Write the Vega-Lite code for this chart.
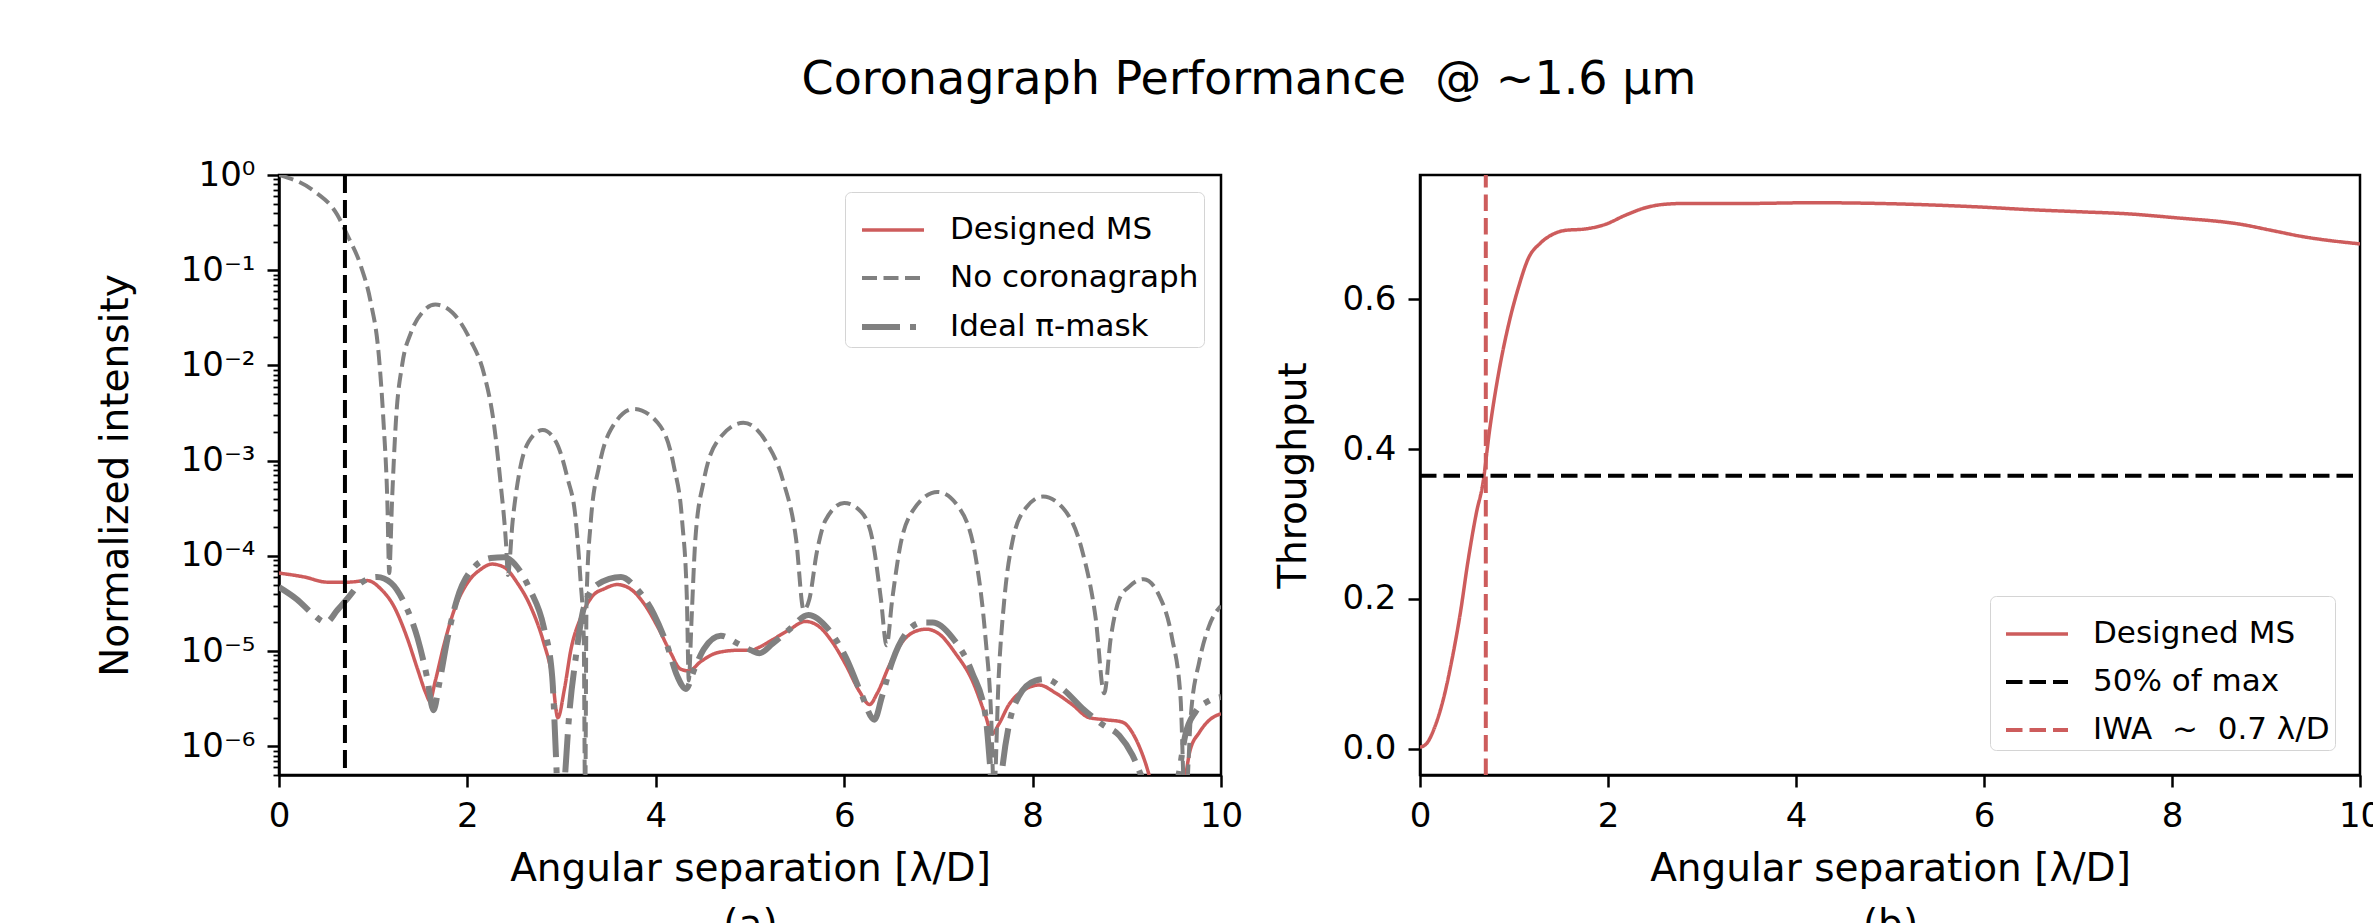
{
  "$schema": "https://vega.github.io/schema/vega-lite/v6.json",
  "autosize": {"type": "pad"},
  "padding": {"left": 94, "top": 56, "right": 0, "bottom": 0},
  "background": "white",
  "title": {"text": "Coronagraph Performance\u00a0\u00a0@ ~1.6 µm", "font": "DejaVu Sans", "fontSize": 46, "fontWeight": "normal", "color": "black", "anchor": "middle", "offset": 53, "dx": 10},
  "datasets": {
    "intensity": [
      {"x": 0, "y": 6.6e-5, "series": "Designed MS"}, {"x": 0.27, "y": 6.0e-5, "series": "Designed MS"}, {"x": 0.51, "y": 5.3e-5, "series": "Designed MS"}, {"x": 0.73, "y": 5.3e-5, "series": "Designed MS"}, {"x": 0.94, "y": 5.5e-5, "series": "Designed MS"}, {"x": 1.08, "y": 4.5e-5, "series": "Designed MS"}, {"x": 1.22, "y": 2.95e-5, "series": "Designed MS"}, {"x": 1.36, "y": 1.38e-5, "series": "Designed MS"}, {"x": 1.47, "y": 6.5e-6, "series": "Designed MS"}, {"x": 1.56, "y": 3.6e-6, "series": "Designed MS"}, {"x": 1.6, "y": 3.0e-6, "series": "Designed MS"}, {"x": 1.66, "y": 4.9e-6, "series": "Designed MS"}, {"x": 1.75, "y": 1.15e-5, "series": "Designed MS"}, {"x": 1.86, "y": 2.7e-5, "series": "Designed MS"}, {"x": 2.0, "y": 5.2e-5, "series": "Designed MS"}, {"x": 2.14, "y": 7.2e-5, "series": "Designed MS"}, {"x": 2.26, "y": 8.2e-5, "series": "Designed MS"}, {"x": 2.39, "y": 7.6e-5, "series": "Designed MS"}, {"x": 2.53, "y": 5.2e-5, "series": "Designed MS"}, {"x": 2.67, "y": 2.95e-5, "series": "Designed MS"}, {"x": 2.81, "y": 1.23e-5, "series": "Designed MS"}, {"x": 2.9, "y": 5.4e-6, "series": "Designed MS"}, {"x": 2.96, "y": 2.0e-6, "series": "Designed MS"}, {"x": 3.03, "y": 4.0e-6, "series": "Designed MS"}, {"x": 3.1, "y": 1.05e-5, "series": "Designed MS"}, {"x": 3.2, "y": 2.2e-5, "series": "Designed MS"}, {"x": 3.34, "y": 3.9e-5, "series": "Designed MS"}, {"x": 3.45, "y": 4.5e-5, "series": "Designed MS"}, {"x": 3.59, "y": 5.0e-5, "series": "Designed MS"}, {"x": 3.73, "y": 4.5e-5, "series": "Designed MS"}, {"x": 3.87, "y": 3.2e-5, "series": "Designed MS"}, {"x": 4.02, "y": 1.8e-5, "series": "Designed MS"}, {"x": 4.16, "y": 9.5e-6, "series": "Designed MS"}, {"x": 4.26, "y": 6.5e-6, "series": "Designed MS"}, {"x": 4.35, "y": 6.2e-6, "series": "Designed MS"}, {"x": 4.48, "y": 7.8e-6, "series": "Designed MS"}, {"x": 4.65, "y": 9.6e-6, "series": "Designed MS"}, {"x": 4.87, "y": 1.02e-5, "series": "Designed MS"}, {"x": 5.01, "y": 1.02e-5, "series": "Designed MS"}, {"x": 5.1, "y": 1.1e-5, "series": "Designed MS"}, {"x": 5.24, "y": 1.32e-5, "series": "Designed MS"}, {"x": 5.41, "y": 1.66e-5, "series": "Designed MS"}, {"x": 5.59, "y": 2.05e-5, "series": "Designed MS"}, {"x": 5.73, "y": 1.82e-5, "series": "Designed MS"}, {"x": 5.87, "y": 1.26e-5, "series": "Designed MS"}, {"x": 6.02, "y": 7.1e-6, "series": "Designed MS"}, {"x": 6.16, "y": 3.8e-6, "series": "Designed MS"}, {"x": 6.27, "y": 2.75e-6, "series": "Designed MS"}, {"x": 6.35, "y": 3.6e-6, "series": "Designed MS"}, {"x": 6.48, "y": 7.1e-6, "series": "Designed MS"}, {"x": 6.62, "y": 1.26e-5, "series": "Designed MS"}, {"x": 6.76, "y": 1.62e-5, "series": "Designed MS"}, {"x": 6.87, "y": 1.7e-5, "series": "Designed MS"}, {"x": 7.01, "y": 1.51e-5, "series": "Designed MS"}, {"x": 7.18, "y": 9.5e-6, "series": "Designed MS"}, {"x": 7.36, "y": 4.9e-6, "series": "Designed MS"}, {"x": 7.5, "y": 2.1e-6, "series": "Designed MS"}, {"x": 7.57, "y": 1.35e-6, "series": "Designed MS"}, {"x": 7.64, "y": 1.7e-6, "series": "Designed MS"}, {"x": 7.75, "y": 2.75e-6, "series": "Designed MS"}, {"x": 7.89, "y": 3.8e-6, "series": "Designed MS"}, {"x": 8.07, "y": 4.4e-6, "series": "Designed MS"}, {"x": 8.25, "y": 3.6e-6, "series": "Designed MS"}, {"x": 8.42, "y": 2.75e-6, "series": "Designed MS"}, {"x": 8.6, "y": 2.0e-6, "series": "Designed MS"}, {"x": 8.78, "y": 1.9e-6, "series": "Designed MS"}, {"x": 8.95, "y": 1.8e-6, "series": "Designed MS"}, {"x": 9.1, "y": 1.17e-6, "series": "Designed MS"}, {"x": 9.2, "y": 6.6e-7, "series": "Designed MS"}, {"x": 9.3, "y": 3e-7, "series": "Designed MS"}, {"x": 9.45, "y": 1.5e-7, "series": "Designed MS"}, {"x": 9.59, "y": 3e-7, "series": "Designed MS"}, {"x": 9.67, "y": 8.9e-7, "series": "Designed MS"}, {"x": 9.77, "y": 1.4e-6, "series": "Designed MS"}, {"x": 9.88, "y": 1.9e-6, "series": "Designed MS"}, {"x": 10.0, "y": 2.2e-6, "series": "Designed MS"},

      {"x": 0, "y": 1.0, "series": "No coronagraph"}, {"x": 0.37, "y": 0.68, "series": "No coronagraph"}, {"x": 0.62, "y": 0.38, "series": "No coronagraph"}, {"x": 0.72, "y": 0.24, "series": "No coronagraph"}, {"x": 0.87, "y": 0.11, "series": "No coronagraph"}, {"x": 0.97, "y": 0.048, "series": "No coronagraph"}, {"x": 1.06, "y": 0.0126, "series": "No coronagraph"}, {"x": 1.11, "y": 0.0025, "series": "No coronagraph"}, {"x": 1.15, "y": 3.8e-4, "series": "No coronagraph"}, {"x": 1.17, "y": 6.6e-5, "series": "No coronagraph"}, {"x": 1.2, "y": 3.8e-4, "series": "No coronagraph"}, {"x": 1.24, "y": 0.0025, "series": "No coronagraph"}, {"x": 1.31, "y": 0.0105, "series": "No coronagraph"}, {"x": 1.4, "y": 0.022, "series": "No coronagraph"}, {"x": 1.52, "y": 0.036, "series": "No coronagraph"}, {"x": 1.66, "y": 0.0436, "series": "No coronagraph"}, {"x": 1.84, "y": 0.036, "series": "No coronagraph"}, {"x": 2.03, "y": 0.0186, "series": "No coronagraph"}, {"x": 2.18, "y": 0.0079, "series": "No coronagraph"}, {"x": 2.28, "y": 0.0025, "series": "No coronagraph"}, {"x": 2.35, "y": 6.1e-4, "series": "No coronagraph"}, {"x": 2.41, "y": 1.35e-4, "series": "No coronagraph"}, {"x": 2.43, "y": 6.3e-5, "series": "No coronagraph"}, {"x": 2.48, "y": 2.3e-4, "series": "No coronagraph"}, {"x": 2.55, "y": 7.4e-4, "series": "No coronagraph"}, {"x": 2.65, "y": 1.58e-3, "series": "No coronagraph"}, {"x": 2.8, "y": 2.1e-3, "series": "No coronagraph"}, {"x": 2.94, "y": 1.58e-3, "series": "No coronagraph"}, {"x": 3.06, "y": 6.7e-4, "series": "No coronagraph"}, {"x": 3.15, "y": 2.4e-4, "series": "No coronagraph"}, {"x": 3.2, "y": 5.7e-5, "series": "No coronagraph"}, {"x": 3.235, "y": 1.4e-5, "series": "No coronagraph"}, {"x": 3.25, "y": 2e-7, "series": "No coronagraph"}, {"x": 3.265, "y": 3.5e-5, "series": "No coronagraph"}, {"x": 3.31, "y": 2.3e-4, "series": "No coronagraph"}, {"x": 3.4, "y": 8.9e-4, "series": "No coronagraph"}, {"x": 3.52, "y": 2.1e-3, "series": "No coronagraph"}, {"x": 3.77, "y": 3.5e-3, "series": "No coronagraph"}, {"x": 4.02, "y": 2.5e-3, "series": "No coronagraph"}, {"x": 4.19, "y": 8.9e-4, "series": "No coronagraph"}, {"x": 4.28, "y": 2.3e-4, "series": "No coronagraph"}, {"x": 4.33, "y": 3.5e-5, "series": "No coronagraph"}, {"x": 4.35, "y": 4.9e-6, "series": "No coronagraph"}, {"x": 4.38, "y": 2.2e-5, "series": "No coronagraph"}, {"x": 4.42, "y": 1.5e-4, "series": "No coronagraph"}, {"x": 4.51, "y": 6.2e-4, "series": "No coronagraph"}, {"x": 4.65, "y": 1.58e-3, "series": "No coronagraph"}, {"x": 4.93, "y": 2.5e-3, "series": "No coronagraph"}, {"x": 5.17, "y": 1.58e-3, "series": "No coronagraph"}, {"x": 5.35, "y": 6.2e-4, "series": "No coronagraph"}, {"x": 5.49, "y": 1.48e-4, "series": "No coronagraph"}, {"x": 5.57, "y": 2.7e-5, "series": "No coronagraph"}, {"x": 5.63, "y": 3.5e-5, "series": "No coronagraph"}, {"x": 5.71, "y": 1.1e-4, "series": "No coronagraph"}, {"x": 5.8, "y": 2.35e-4, "series": "No coronagraph"}, {"x": 6.0, "y": 3.6e-4, "series": "No coronagraph"}, {"x": 6.18, "y": 2.9e-4, "series": "No coronagraph"}, {"x": 6.3, "y": 1.48e-4, "series": "No coronagraph"}, {"x": 6.39, "y": 3.5e-5, "series": "No coronagraph"}, {"x": 6.45, "y": 1.15e-5, "series": "No coronagraph"}, {"x": 6.51, "y": 3.5e-5, "series": "No coronagraph"}, {"x": 6.6, "y": 1.35e-4, "series": "No coronagraph"}, {"x": 6.72, "y": 2.9e-4, "series": "No coronagraph"}, {"x": 6.99, "y": 4.7e-4, "series": "No coronagraph"}, {"x": 7.22, "y": 3.2e-4, "series": "No coronagraph"}, {"x": 7.4, "y": 9.1e-5, "series": "No coronagraph"}, {"x": 7.5, "y": 1.38e-5, "series": "No coronagraph"}, {"x": 7.56, "y": 2.1e-6, "series": "No coronagraph"}, {"x": 7.59, "y": 3e-7, "series": "No coronagraph"}, {"x": 7.64, "y": 5.4e-6, "series": "No coronagraph"}, {"x": 7.7, "y": 3.5e-5, "series": "No coronagraph"}, {"x": 7.79, "y": 1.48e-4, "series": "No coronagraph"}, {"x": 7.93, "y": 3.2e-4, "series": "No coronagraph"}, {"x": 8.11, "y": 4.2e-4, "series": "No coronagraph"}, {"x": 8.32, "y": 3.2e-4, "series": "No coronagraph"}, {"x": 8.53, "y": 1.1e-4, "series": "No coronagraph"}, {"x": 8.67, "y": 2.2e-5, "series": "No coronagraph"}, {"x": 8.76, "y": 3.6e-6, "series": "No coronagraph"}, {"x": 8.83, "y": 1.38e-5, "series": "No coronagraph"}, {"x": 8.92, "y": 3.5e-5, "series": "No coronagraph"}, {"x": 9.02, "y": 4.7e-5, "series": "No coronagraph"}, {"x": 9.18, "y": 5.7e-5, "series": "No coronagraph"}, {"x": 9.34, "y": 3.9e-5, "series": "No coronagraph"}, {"x": 9.48, "y": 1.38e-5, "series": "No coronagraph"}, {"x": 9.57, "y": 3.3e-6, "series": "No coronagraph"}, {"x": 9.62, "y": 2e-7, "series": "No coronagraph"}, {"x": 9.68, "y": 2.1e-6, "series": "No coronagraph"}, {"x": 9.77, "y": 7.8e-6, "series": "No coronagraph"}, {"x": 9.87, "y": 1.8e-5, "series": "No coronagraph"}, {"x": 10.0, "y": 3.0e-5, "series": "No coronagraph"},

      {"x": 0, "y": 4.7e-5, "series": "Ideal π-mask"}, {"x": 0.19, "y": 3.5e-5, "series": "Ideal π-mask"}, {"x": 0.37, "y": 2.4e-5, "series": "Ideal π-mask"}, {"x": 0.5, "y": 2.0e-5, "series": "Ideal π-mask"}, {"x": 0.62, "y": 2.7e-5, "series": "Ideal π-mask"}, {"x": 0.74, "y": 3.7e-5, "series": "Ideal π-mask"}, {"x": 0.87, "y": 5.2e-5, "series": "Ideal π-mask"}, {"x": 1.04, "y": 6.0e-5, "series": "Ideal π-mask"}, {"x": 1.19, "y": 5.2e-5, "series": "Ideal π-mask"}, {"x": 1.33, "y": 3.2e-5, "series": "Ideal π-mask"}, {"x": 1.47, "y": 1.38e-5, "series": "Ideal π-mask"}, {"x": 1.57, "y": 5.4e-6, "series": "Ideal π-mask"}, {"x": 1.64, "y": 2.4e-6, "series": "Ideal π-mask"}, {"x": 1.7, "y": 4.5e-6, "series": "Ideal π-mask"}, {"x": 1.79, "y": 1.38e-5, "series": "Ideal π-mask"}, {"x": 1.89, "y": 3.5e-5, "series": "Ideal π-mask"}, {"x": 2.07, "y": 7.6e-5, "series": "Ideal π-mask"}, {"x": 2.25, "y": 9.5e-5, "series": "Ideal π-mask"}, {"x": 2.39, "y": 9.7e-5, "series": "Ideal π-mask"}, {"x": 2.53, "y": 7.6e-5, "series": "Ideal π-mask"}, {"x": 2.67, "y": 4.3e-5, "series": "Ideal π-mask"}, {"x": 2.81, "y": 1.8e-5, "series": "Ideal π-mask"}, {"x": 2.9, "y": 5.4e-6, "series": "Ideal π-mask"}, {"x": 2.94, "y": 8e-7, "series": "Ideal π-mask"}, {"x": 2.98, "y": 1e-7, "series": "Ideal π-mask"}, {"x": 3.03, "y": 4e-7, "series": "Ideal π-mask"}, {"x": 3.08, "y": 2.1e-6, "series": "Ideal π-mask"}, {"x": 3.15, "y": 8.5e-6, "series": "Ideal π-mask"}, {"x": 3.24, "y": 2.95e-5, "series": "Ideal π-mask"}, {"x": 3.38, "y": 5.0e-5, "series": "Ideal π-mask"}, {"x": 3.63, "y": 6.0e-5, "series": "Ideal π-mask"}, {"x": 3.8, "y": 4.5e-5, "series": "Ideal π-mask"}, {"x": 3.98, "y": 2.45e-5, "series": "Ideal π-mask"}, {"x": 4.12, "y": 1.15e-5, "series": "Ideal π-mask"}, {"x": 4.23, "y": 5.4e-6, "series": "Ideal π-mask"}, {"x": 4.32, "y": 4.0e-6, "series": "Ideal π-mask"}, {"x": 4.41, "y": 6.5e-6, "series": "Ideal π-mask"}, {"x": 4.51, "y": 1.05e-5, "series": "Ideal π-mask"}, {"x": 4.69, "y": 1.45e-5, "series": "Ideal π-mask"}, {"x": 4.87, "y": 1.2e-5, "series": "Ideal π-mask"}, {"x": 5.01, "y": 1.02e-5, "series": "Ideal π-mask"}, {"x": 5.1, "y": 9.5e-6, "series": "Ideal π-mask"}, {"x": 5.24, "y": 1.2e-5, "series": "Ideal π-mask"}, {"x": 5.41, "y": 1.66e-5, "series": "Ideal π-mask"}, {"x": 5.62, "y": 2.4e-5, "series": "Ideal π-mask"}, {"x": 5.84, "y": 1.66e-5, "series": "Ideal π-mask"}, {"x": 6.02, "y": 8.5e-6, "series": "Ideal π-mask"}, {"x": 6.18, "y": 3.6e-6, "series": "Ideal π-mask"}, {"x": 6.32, "y": 1.9e-6, "series": "Ideal π-mask"}, {"x": 6.4, "y": 3.3e-6, "series": "Ideal π-mask"}, {"x": 6.51, "y": 7.8e-6, "series": "Ideal π-mask"}, {"x": 6.65, "y": 1.51e-5, "series": "Ideal π-mask"}, {"x": 6.83, "y": 2.0e-5, "series": "Ideal π-mask"}, {"x": 6.94, "y": 2.0e-5, "series": "Ideal π-mask"}, {"x": 7.15, "y": 1.38e-5, "series": "Ideal π-mask"}, {"x": 7.36, "y": 5.9e-6, "series": "Ideal π-mask"}, {"x": 7.5, "y": 2.1e-6, "series": "Ideal π-mask"}, {"x": 7.55, "y": 6e-7, "series": "Ideal π-mask"}, {"x": 7.61, "y": 1e-7, "series": "Ideal π-mask"}, {"x": 7.68, "y": 6e-7, "series": "Ideal π-mask"}, {"x": 7.75, "y": 1.7e-6, "series": "Ideal π-mask"}, {"x": 7.85, "y": 3.3e-6, "series": "Ideal π-mask"}, {"x": 8.03, "y": 4.9e-6, "series": "Ideal π-mask"}, {"x": 8.14, "y": 5.1e-6, "series": "Ideal π-mask"}, {"x": 8.32, "y": 4.0e-6, "series": "Ideal π-mask"}, {"x": 8.53, "y": 2.5e-6, "series": "Ideal π-mask"}, {"x": 8.74, "y": 1.7e-6, "series": "Ideal π-mask"}, {"x": 8.92, "y": 1.3e-6, "series": "Ideal π-mask"}, {"x": 9.06, "y": 8.1e-7, "series": "Ideal π-mask"}, {"x": 9.15, "y": 5e-7, "series": "Ideal π-mask"}, {"x": 9.35, "y": 1.5e-7, "series": "Ideal π-mask"}, {"x": 9.55, "y": 5e-7, "series": "Ideal π-mask"}, {"x": 9.62, "y": 1.3e-6, "series": "Ideal π-mask"}, {"x": 9.73, "y": 2.3e-6, "series": "Ideal π-mask"}, {"x": 9.87, "y": 3.0e-6, "series": "Ideal π-mask"}, {"x": 10.0, "y": 3.3e-6, "series": "Ideal π-mask"}
    ],
    "throughput": [
      {"x": 0, "y": 0.002, "series": "Designed MS"}, {"x": 0.07, "y": 0.007, "series": "Designed MS"}, {"x": 0.16, "y": 0.03, "series": "Designed MS"}, {"x": 0.25, "y": 0.067, "series": "Designed MS"}, {"x": 0.34, "y": 0.119, "series": "Designed MS"}, {"x": 0.43, "y": 0.182, "series": "Designed MS"}, {"x": 0.51, "y": 0.25, "series": "Designed MS"}, {"x": 0.6, "y": 0.315, "series": "Designed MS"}, {"x": 0.67, "y": 0.355, "series": "Designed MS"}, {"x": 0.74, "y": 0.425, "series": "Designed MS"}, {"x": 0.83, "y": 0.497, "series": "Designed MS"}, {"x": 0.94, "y": 0.565, "series": "Designed MS"}, {"x": 1.05, "y": 0.617, "series": "Designed MS"}, {"x": 1.15, "y": 0.654, "series": "Designed MS"}, {"x": 1.28, "y": 0.675, "series": "Designed MS"}, {"x": 1.4, "y": 0.686, "series": "Designed MS"}, {"x": 1.54, "y": 0.692, "series": "Designed MS"}, {"x": 1.76, "y": 0.694, "series": "Designed MS"}, {"x": 1.97, "y": 0.7, "series": "Designed MS"}, {"x": 2.18, "y": 0.712, "series": "Designed MS"}, {"x": 2.39, "y": 0.722, "series": "Designed MS"}, {"x": 2.61, "y": 0.727, "series": "Designed MS"}, {"x": 2.82, "y": 0.728, "series": "Designed MS"}, {"x": 3.46, "y": 0.728, "series": "Designed MS"}, {"x": 4.17, "y": 0.729, "series": "Designed MS"}, {"x": 4.88, "y": 0.728, "series": "Designed MS"}, {"x": 5.44, "y": 0.726, "series": "Designed MS"}, {"x": 6.0, "y": 0.723, "series": "Designed MS"}, {"x": 6.44, "y": 0.72, "series": "Designed MS"}, {"x": 7.0, "y": 0.717, "series": "Designed MS"}, {"x": 7.55, "y": 0.714, "series": "Designed MS"}, {"x": 8.03, "y": 0.709, "series": "Designed MS"}, {"x": 8.74, "y": 0.7, "series": "Designed MS"}, {"x": 9.06, "y": 0.692, "series": "Designed MS"}, {"x": 9.38, "y": 0.684, "series": "Designed MS"}, {"x": 10.0, "y": 0.674, "series": "Designed MS"},
      {"x": 0, "y": 0.3645, "series": "50% of max"}, {"x": 10, "y": 0.3645, "series": "50% of max"},
      {"x": 0.7, "y": -0.035, "series": "IWA\u00a0\u00a0~\u00a0\u00a00.7 λ/D"}, {"x": 0.7, "y": 0.766, "series": "IWA\u00a0\u00a0~\u00a0\u00a00.7 λ/D"}
    ]
  },
  "hconcat": [
    {
      "width": 942,
      "height": 600,
      "layer": [
        {
          "data": {"name": "intensity"},
          "mark": {"type": "line", "interpolate": "monotone", "clip": true},
          "encoding": {
            "x": {"field": "x", "type": "quantitative", "scale": {"domain": [0, 10], "nice": false, "zero": false}, "axis": {"values": [0, 2, 4, 6, 8, 10], "format": "d", "title": ["Angular separation [λ/D]", "(a)"]}},
            "y": {"field": "y", "type": "quantitative", "scale": {"type": "log", "domain": [5e-7, 1], "nice": false}, "axis": {"values": [1, 0.1, 0.01, 0.001, 0.0001, 0.00001, 0.000001], "labelExpr": "['10⁰','10⁻¹','10⁻²','10⁻³','10⁻⁴','10⁻⁵','10⁻⁶'][round(-log(datum.value)/LN10)]", "title": "Normalized intensity", "titlePadding": 45, "orient": "left"}},
            "color": {"field": "series", "type": "nominal", "scale": {"domain": ["Designed MS", "No coronagraph", "Ideal π-mask"], "range": ["#cd5c5c", "#808080", "#808080"]}, "legend": {"title": null, "orient": "top-right", "offset": 17}},
            "strokeDash": {"field": "series", "type": "nominal", "scale": {"domain": ["Designed MS", "No coronagraph", "Ideal π-mask"], "range": [[1, 0], [15, 6.5], [38, 10, 6, 10]]}, "legend": {"title": null, "orient": "top-right", "offset": 17}},
            "strokeWidth": {"field": "series", "type": "nominal", "scale": {"type": "ordinal", "domain": ["Designed MS", "No coronagraph", "Ideal π-mask"], "range": [3.5, 4, 6]}, "legend": {"title": null, "orient": "top-right", "offset": 17}}
          }
        },
        {
          "data": {"values": [{}]},
          "mark": {"type": "rule", "color": "black", "strokeDash": [18, 7], "strokeWidth": 4},
          "encoding": {"x": {"datum": 0.7, "type": "quantitative", "scale": {"domain": [0, 10], "nice": false, "zero": false}}}
        },
        {
          "data": {"values": [{"m": 0.5}]},
          "mark": {"type": "point", "opacity": 0},
          "encoding": {"y": {"field": "m", "type": "quantitative", "scale": {"type": "log", "domain": [5e-7, 1], "nice": false}, "axis": {"orient": "left", "values": [5e-7, 6e-7, 7e-7, 8e-7, 9e-7, 2e-6, 3e-6, 4e-6, 5e-6, 6e-6, 7e-6, 8e-6, 9e-6, 2e-5, 3e-5, 4e-5, 5e-5, 6e-5, 7e-5, 8e-5, 9e-5, 2e-4, 3e-4, 4e-4, 5e-4, 6e-4, 7e-4, 8e-4, 9e-4, 2e-3, 3e-3, 4e-3, 5e-3, 6e-3, 7e-3, 8e-3, 9e-3, 2e-2, 3e-2, 4e-2, 5e-2, 6e-2, 7e-2, 8e-2, 9e-2, 0.2, 0.3, 0.4, 0.5, 0.6, 0.7, 0.8, 0.9], "labels": false, "title": null, "domain": false, "tickSize": 6, "tickWidth": 1.8}}}
        }
      ],
      "resolve": {"axis": {"y": "independent"}}
    },
    {
      "width": 940,
      "height": 600,
      "data": {"name": "throughput"},
      "mark": {"type": "line", "interpolate": "monotone", "clip": true},
      "encoding": {
        "x": {"field": "x", "type": "quantitative", "scale": {"domain": [0, 10], "nice": false, "zero": false}, "axis": {"values": [0, 2, 4, 6, 8, 10], "format": "d", "title": ["Angular separation [λ/D]", "(b)"]}},
        "y": {"field": "y", "type": "quantitative", "scale": {"domain": [-0.035, 0.766], "nice": false, "zero": false}, "axis": {"values": [0, 0.2, 0.4, 0.6], "format": ".1f", "title": "Throughput", "titlePadding": 28}},
        "color": {"field": "series", "type": "nominal", "scale": {"domain": ["Designed MS", "50% of max", "IWA\u00a0\u00a0~\u00a0\u00a00.7 λ/D"], "range": ["#cd5c5c", "#000000", "#cd5c5c"]}, "legend": {"title": null, "orient": "bottom-right", "offset": 25}},
        "strokeDash": {"field": "series", "type": "nominal", "scale": {"domain": ["Designed MS", "50% of max", "IWA\u00a0\u00a0~\u00a0\u00a00.7 λ/D"], "range": [[1, 0], [16.5, 7], [16.5, 7]]}, "legend": {"title": null, "orient": "bottom-right", "offset": 25}},
        "strokeWidth": {"field": "series", "type": "nominal", "scale": {"type": "ordinal", "domain": ["Designed MS", "50% of max", "IWA\u00a0\u00a0~\u00a0\u00a00.7 λ/D"], "range": [3.5, 4, 4]}, "legend": {"title": null, "orient": "bottom-right", "offset": 25}}
      }
    }
  ],
  "spacing": 199,
  "bounds": "flush",
  "resolve": {"scale": {"color": "independent", "strokeDash": "independent", "strokeWidth": "independent"}},
  "config": {
    "view": {"stroke": "black", "strokeWidth": 2.5},
    "axis": {"grid": false, "domainColor": "black", "domainWidth": 2.5, "tickColor": "black", "tickWidth": 2.5, "tickSize": 12, "labelPadding": 12, "labelFont": "DejaVu Sans", "labelFontSize": 34, "labelColor": "black", "labelOverlap": false, "titleFont": "DejaVu Sans", "titleFontSize": 39, "titleFontWeight": "normal", "titleColor": "black"},
    "axisX": {"labelFlush": false, "titlePadding": 16, "titleLineHeight": 56},
    "legend": {"labelFont": "DejaVu Sans", "labelFontSize": 31, "labelColor": "black", "symbolType": "stroke", "symbolSize": 3844, "symbolOffset": 9, "labelOffset": 23, "padding": 5, "rowPadding": -15, "fillColor": "rgba(255,255,255,0.8)", "strokeColor": "#d4d4d4", "cornerRadius": 6, "labelLimit": 1000}
  }
}
